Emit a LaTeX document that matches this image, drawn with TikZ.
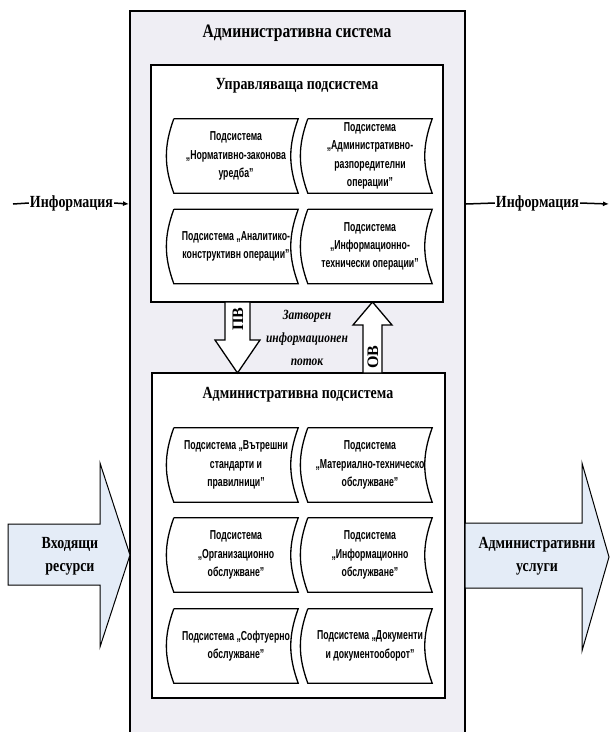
\documentclass[tikz,border=0pt]{standalone}
\usepackage{fontspec}
\setmainfont{Liberation Serif}
\newfontfamily\headfont{Liberation Serif}[FakeStretch=0.82]
\newfontfamily\subfont{Liberation Sans}[FakeStretch=0.67]
\usetikzlibrary{arrows.meta, positioning, calc}
\definecolor{sysfill}{HTML}{EFEEF4}
\definecolor{flowfill}{HTML}{E4ECF7}
\tikzset{
  heading/.style={font=\headfont\bfseries\fontsize{#1}{23}\selectfont, inner sep=0pt, anchor=base},
  heading/.default=17,
  flowtext/.style={font=\headfont\bfseries\fontsize{17}{23}\selectfont, align=center, inner sep=1pt},
  container/.style={draw, line width=2pt, fill=white, inner sep=0pt},
  subsys/.style={font=\subfont\bfseries\fontsize{13}{18.3}\selectfont, align=center,
    minimum width=124pt, minimum height=74pt, inner sep=0pt},
  subline/.style={line width=1.3pt},
  blockarrow/.style={draw, line width=1pt, fill=flowfill, line join=miter},
  feedarrow/.style={draw, line width=1.3pt, fill=white, line join=miter},
  feedlabel/.style={font=\bfseries\fontsize{16}{18}\selectfont, rotate=90, inner sep=0pt},
  infoline/.style={line width=1.5pt},
}
\begin{document}
\begin{tikzpicture}[x=1pt, y=-1pt]
    \useasboundingbox (0,0) rectangle (610,732);
    % outer system
    \node[draw, line width=2pt, fill=sysfill, minimum width=335pt, minimum height=734pt, inner sep=0pt] (sys) at (297.5,378) {};
    \node[heading=19] (systitle) at (297,37) {Административна система};
    % information flows
    \coordinate (infoLs) at (13,204);
    \node[flowtext] (infoL) at (71.5,203) {Информация};
    \coordinate (infoLe) at (sys.west |- infoLs);
    \draw[infoline] (infoLs) -- (infoL.west);
    \draw[infoline, -{Latex[length=6pt, width=5pt]}] (infoL.east) -- (infoLe);
    \coordinate (infoRs) at (sys.east |- infoLs);
    \node[flowtext] (infoR) at (537.5,203) {Информация};
    \coordinate (infoRe) at (609,204);
    \draw[infoline] (infoRs) -- (infoR.west);
    \draw[infoline, -{Latex[length=6pt, width=5pt]}] (infoR.east) -- (infoRe);
    % resources in, services out
    \draw[blockarrow] (8,524) -- (100,524) -- (100,463) -- (130,555) -- (100,647) -- (100,585) -- (8,585) -- cycle;
    \node[flowtext] (inres) at (70,556) {Входящи\\ресурси};
    \draw[blockarrow] (465,523) -- (582,523) -- (582,463) -- (609,557) -- (582,651) -- (582,588) -- (465,588) -- cycle;
    \node[flowtext] (outsrv) at (537,556) {Административни\\услуги};
    % control subsystem
    \node[container, minimum width=292pt, minimum height=237pt] (ctrl) at (297,183.5) {};
    \node[heading=17] (ctrltitle) at (297,89) {Управляваща подсистема};
    \node[subsys] (ctrlA) at (236,156) {Подсистема\\„Нормативно-законова\\уредба”};
    \node[subsys] (ctrlB) at (370,156) {Подсистема\\„Административно-\\разпоредителни\\операции”};
    \node[subsys] (ctrlC) at (236,246.5) {Подсистема „Аналитико-\\конструктивн операции”};
    \node[subsys] (ctrlD) at (370,246.5) {Подсистема\\„Информационно-\\технически операции”};
    % administrative subsystem
    \node[container, minimum width=293pt, minimum height=325pt] (adm) at (298,535.5) {};
    \node[heading=17] (admtitle) at (298,398) {Административна подсистема};
    \node[subsys] (admA) at (236,465) {Подсистема „Вътрешни\\стандарти и\\правилници”};
    \node[subsys] (admB) at (370,465) {Подсистема\\„Материално-техническо\\обслужване”};
    \node[subsys] (admC) at (236,555) {Подсистема\\„Организационно\\обслужване”};
    \node[subsys] (admD) at (370,555) {Подсистема\\„Информационно\\обслужване”};
    \node[subsys] (admE) at (236,646) {Подсистема „Софтуерно\\обслужване”};
    \node[subsys] (admF) at (370,646) {Подсистема „Документи\\и документооборот”};
    \foreach \n in {ctrlA,ctrlB,ctrlC,ctrlD,admA,admB,admC,admD,admE,admF}
      \draw[subline] (\n.north west) -- (\n.north east) to[bend right=20] (\n.south east)
        -- (\n.south west) to[bend left=20] (\n.north west);
    % closed information loop
    \draw[feedarrow] (225,302) -- (250,302) -- (250,340) -- (260,340) -- (237.5,373) -- (215,340) -- (225,340) -- cycle;
    \node[feedlabel] (pv) at (238,319) {ПВ};
    \draw[feedarrow] (363,373) -- (382,373) -- (382,325) -- (392,325) -- (372.5,302) -- (353,325) -- (363,325) -- cycle;
    \node[feedlabel] (ov) at (373,357) {ОВ};
    \node[font=\headfont\bfseries\itshape\fontsize{14}{23}\selectfont, align=center] (loop) at (307,338) {Затворен\\информационен\\поток};
\end{tikzpicture}
\end{document}
